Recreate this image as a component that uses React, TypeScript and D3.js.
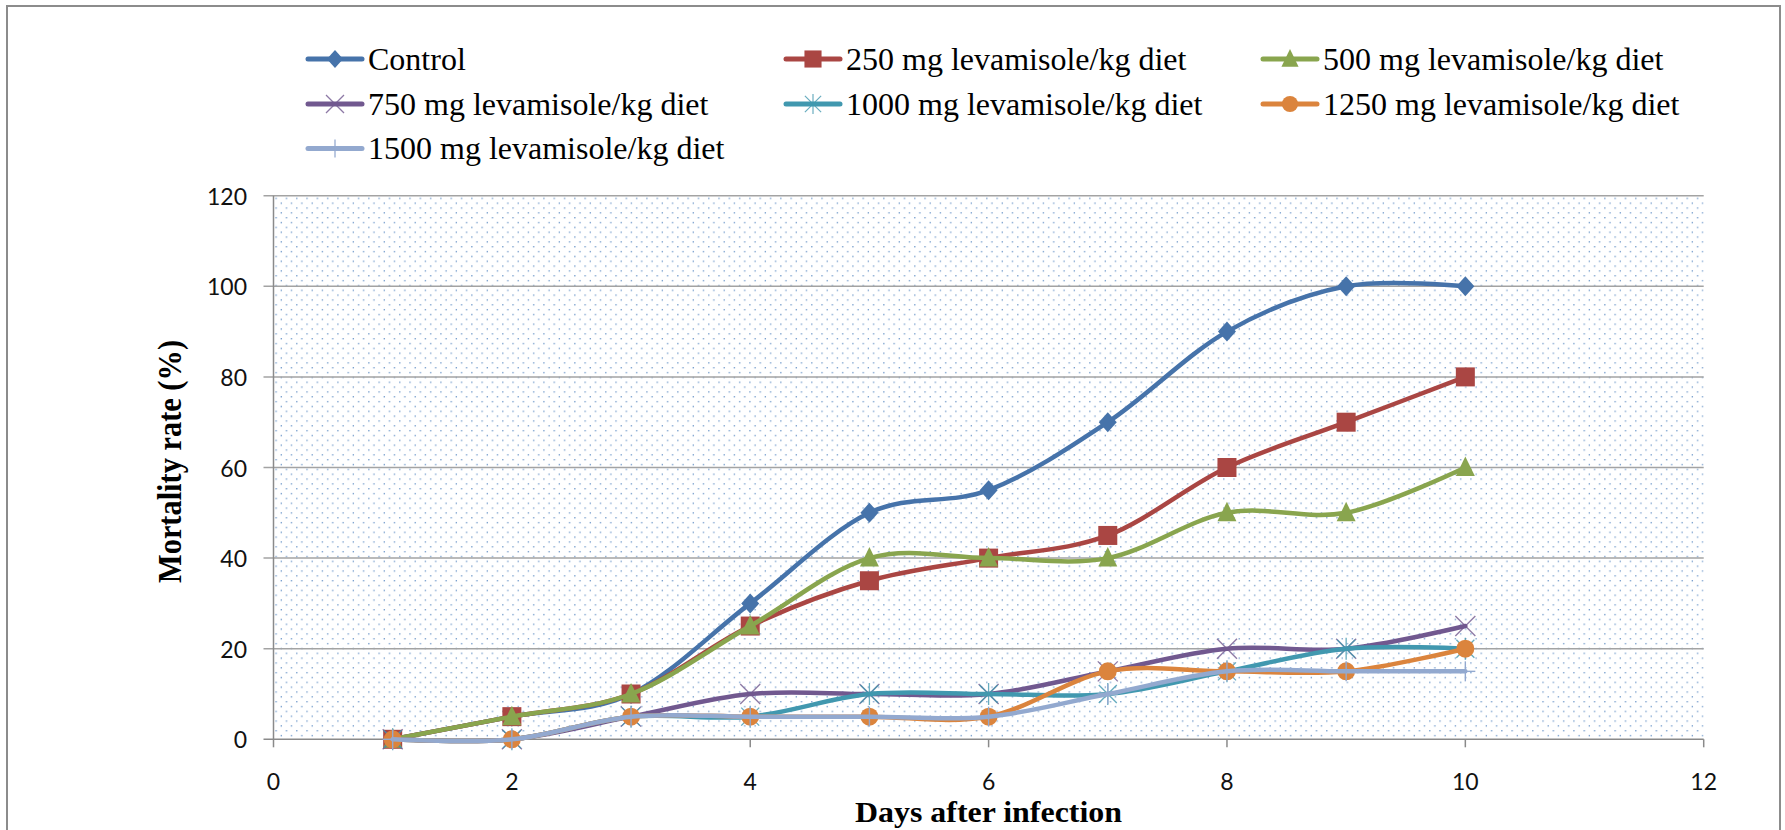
import React from "react";
import * as d3 from "d3";

// Mortality (%) by day after infection for each levamisole dose
const days = [1, 2, 3, 4, 5, 6, 7, 8, 9, 10];
const control = [0, 5, 10, 30, 50, 55, 70, 90, 100, 100];
const dose250 = [0, 5, 10, 25, 35, 40, 45, 60, 70, 80];
const dose500 = [0, 5, 10, 25, 40, 40, 40, 50, 50, 60];
const dose750 = [0, 0, 5, 10, 10, 10, 15, 20, 20, 25];
const dose1000 = [0, 0, 5, 5, 10, 10, 10, 15, 20, 20];
const dose1250 = [0, 0, 5, 5, 5, 5, 15, 15, 15, 20];
const dose1500 = [0, 0, 5, 5, 5, 5, 10, 15, 15, 15];

const seriesNames = [
  "Control",
  "250 mg levamisole/kg diet",
  "500 mg levamisole/kg diet",
  "750 mg levamisole/kg diet",
  "1000 mg levamisole/kg diet",
  "1250 mg levamisole/kg diet",
  "1500 mg levamisole/kg diet",
];
const seriesValues = [control, dose250, dose500, dose750, dose1000, dose1250, dose1500];
const seriesColors = ["#4673AA", "#AA4643", "#89A54E", "#71588F", "#4198AF", "#DB843D", "#93A9CF"];
const seriesMarkers = ["diamond", "square", "triangle", "cross", "star", "circle", "plus"];

const xTicks = [0, 2, 4, 6, 8, 10, 12];
const yTicks = [0, 20, 40, 60, 80, 100, 120];

const W = 1785;
const H = 830;
const plot = { left: 273.5, right: 1703.7, top: 195.7, bottom: 739.3 };

function Marker({ kind, color, x, y, s = 1 }: { kind: string; color: string; x: number; y: number; s?: number }) {
  const t = `translate(${x},${y}) scale(${s})`;
  switch (kind) {
    case "diamond":
      return <polygon transform={t} points="0,-10 9,0 0,10 -9,0" fill={color} />;
    case "square":
      return <rect transform={t} x={-9.5} y={-9.5} width={19} height={19} fill={color} />;
    case "triangle":
      return <polygon transform={t} points="0,-11 9.5,8.5 -9.5,8.5" fill={color} />;
    case "circle":
      return <circle transform={t} r={9} fill={color} />;
    case "cross":
      return (
        <g transform={t} stroke={color} strokeWidth={1.3} opacity={0.8}>
          <line x1={-10} y1={-10} x2={10} y2={10} />
          <line x1={-10} y1={10} x2={10} y2={-10} />
        </g>
      );
    case "star":
      return (
        <g transform={t} stroke={color} strokeWidth={1.3} opacity={0.8}>
          <line x1={-9} y1={-9} x2={9} y2={9} />
          <line x1={-9} y1={9} x2={9} y2={-9} />
          <line x1={0} y1={-11} x2={0} y2={11} />
        </g>
      );
    case "plus":
      return (
        <g transform={t} stroke={color} strokeWidth={1.4}>
          <line x1={-10} y1={0} x2={10} y2={0} />
          <line x1={0} y1={-10} x2={0} y2={10} />
        </g>
      );
    default:
      return null;
  }
}

export default function App() {
  const x = d3.scaleLinear().domain([0, 12]).range([plot.left, plot.right]);
  const y = d3.scaleLinear().domain([0, 120]).range([plot.bottom, plot.top]);

  const line = d3
    .line<number>()
    .x((_, i) => x(days[i]))
    .y((v) => y(v))
    .curve(d3.curveCardinal.tension(0));

  const gridColor = "#A3A3A3";
  const axisColor = "#8A8A8A";
  const tickFont = "Lato, 'Open Sans', sans-serif";
  const serif = "'Liberation Serif', 'Times New Roman', serif";

  const legendCols = [308, 786, 1263];
  const legendRows = [59, 104, 148.5];

  return (
    <svg
      width={W}
      height={H}
      style={{ position: "absolute", left: 0, top: 0, display: "block", background: "#fff" }}
    >
      <defs>
        <pattern id="dots" patternUnits="userSpaceOnUse" width={10.3} height={9.68} x={plot.left} y={plot.top}>
          <rect x={2} y={2} width={1.3} height={1.3} fill="#4F81BD" opacity={0.85} />
          <rect x={7.15} y={6.84} width={1.3} height={1.3} fill="#4F81BD" opacity={0.85} />
        </pattern>
      </defs>

      {/* chart frame */}
      <rect x={7} y={6} width={1773} height={H + 20} fill="#fff" stroke="#8C8C8C" strokeWidth={2} />

      {/* plot area */}
      <rect
        x={plot.left}
        y={plot.top}
        width={plot.right - plot.left}
        height={plot.bottom - plot.top}
        fill="url(#dots)"
      />

      {/* horizontal gridlines */}
      {yTicks.map((v) => (
        <line
          key={"g" + v}
          x1={plot.left - 10}
          x2={plot.right}
          y1={y(v)}
          y2={y(v)}
          stroke={v === 0 ? axisColor : gridColor}
          strokeWidth={1.5}
        />
      ))}

      {/* y axis */}
      <line x1={plot.left} x2={plot.left} y1={plot.top} y2={plot.bottom} stroke={axisColor} strokeWidth={1.5} />
      {yTicks.map((v) => (
        <text
          key={"yl" + v}
          x={247}
          y={y(v)}
          textAnchor="end"
          dominantBaseline="central"
          fontFamily={tickFont}
          fontSize={23}
          fill="#111"
        >
          {v}
        </text>
      ))}

      {/* x axis ticks */}
      {xTicks.map((v) => (
        <g key={"xt" + v}>
          <line x1={x(v)} x2={x(v)} y1={plot.bottom} y2={plot.bottom + 8} stroke={axisColor} strokeWidth={1.5} />
          <text x={x(v)} y={790} textAnchor="middle" fontFamily={tickFont} fontSize={23} fill="#111">
            {v}
          </text>
        </g>
      ))}

      {/* series */}
      {seriesValues.map((vals, si) => (
        <g key={"s" + si}>
          <path
            d={line(vals) || ""}
            fill="none"
            stroke={seriesColors[si]}
            strokeWidth={4.5}
            strokeLinecap="round"
            strokeLinejoin="round"
          />
          {vals.map((v, i) => (
            <Marker key={i} kind={seriesMarkers[si]} color={seriesColors[si]} x={x(days[i])} y={y(v)} />
          ))}
        </g>
      ))}

      {/* axis titles */}
      <text
        transform={`translate(170,461.5) rotate(-90)`}
        textAnchor="middle"
        dominantBaseline="central"
        fontFamily={serif}
        fontWeight="bold"
        fontSize={33}
        textLength={243}
        lengthAdjust="spacingAndGlyphs"
        fill="#000"
      >
        Mortality rate (%)
      </text>
      <text
        x={988.5}
        y={822}
        textAnchor="middle"
        fontFamily={serif}
        fontWeight="bold"
        fontSize={30}
        textLength={267}
        lengthAdjust="spacingAndGlyphs"
        fill="#000"
      >
        Days after infection
      </text>

      {/* legend */}
      {seriesNames.map((name, si) => {
        const col = legendCols[si % 3];
        const row = legendRows[Math.floor(si / 3)];
        return (
          <g key={"lg" + si}>
            <line
              x1={col}
              x2={col + 54}
              y1={row}
              y2={row}
              stroke={seriesColors[si]}
              strokeWidth={5}
              strokeLinecap="round"
            />
            <Marker kind={seriesMarkers[si]} color={seriesColors[si]} x={col + 27} y={row} s={0.9} />
            <text x={col + 60} y={row + 10.8} fontFamily={serif} fontSize={32} fill="#000">
              {name}
            </text>
          </g>
        );
      })}
    </svg>
  );
}
